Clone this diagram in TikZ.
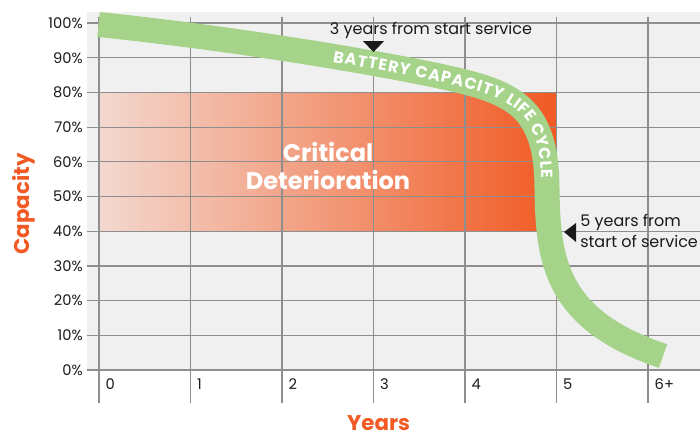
\documentclass[tikz,border=0pt]{standalone}
\usepackage{fontspec}
\setmainfont{Poppins}
\usetikzlibrary{decorations.text}
\definecolor{panel}{RGB}{240,240,240}
\definecolor{gridgrey}{RGB}{142,142,142}
\definecolor{bandgreen}{RGB}{166,211,138}
\definecolor{hot}{RGB}{241,90,36}
\definecolor{pale}{RGB}{243,216,207}
\definecolor{ink}{RGB}{26,26,26}
\begin{document}
\begin{tikzpicture}[x=68.625pt,y=2.6025pt,
  gridline/.style={line width=0.9pt,draw=gridgrey},
  ticklabel/.style={inner sep=0pt,text=ink,font=\fontsize{11}{13}\selectfont},
  axistitle/.style={inner sep=0pt,text=hot,font=\bfseries\fontsize{16}{19}\selectfont},
  callout/.style={inner sep=0pt,text=ink,font=\fontsize{12}{16.3}\selectfont}]
\useasboundingbox (-1.082,-19.31) rectangle (6.568,106.63);
\fill[panel] (-0.131,0) rectangle (6.568,103.2);
\shade[left color=pale,right color=hot] (0,40) rectangle (5,80);
\foreach \p in {0,10,...,100}
  \draw[gridline] (-0.131,\p) -- (6.568,\p);
\foreach \t in {0,...,6}
  \draw[gridline] (\t,101.8) -- (\t,-9.6);
\foreach \p in {0,10,...,100}
  \node[ticklabel,anchor=east] (ylbl\p) at (-0.175,\p) {\p\%};
\foreach \t in {0,...,5}
  \node[ticklabel,anchor=west] (xlbl\t) at (\t+0.07,-4.03) {\t};
\node[ticklabel,anchor=west] (xlbl6) at (6.07,-4.03) {6+};
\draw[bandgreen,line width=18.75pt] (-0.005,99.57) .. controls (1.650,95.10) and (3.454,86.74) .. (4.000,83.00)
  .. controls (4.601,78.96) and (4.896,73.49) .. (4.896,51.87)
  .. controls (4.907,31.70) and (4.984,14.41) .. (6.164,4.03);
\path[decorate,decoration={text along path,raise=-4.2pt,text align={fit to path},text color=white,
  text={|\bfseries\fontsize{12}{14}\selectfont|BATTERY CAPACITY LIFE CYCLE}}]
  (2.564,90.35) .. controls (3.220,87.46) and (3.746,84.73) .. (4.000,83.00)
  .. controls (4.601,78.96) and (4.896,73.49) .. (4.896,55.33);
\node[text=white,align=center,font=\bfseries\fontsize{18}{21}\selectfont] (critical) at (2.503,58.9) {Critical\\Deterioration};
\node[callout,anchor=base] (note3) at (3.628,96.74) {3 years from start service};
\fill[ink] (3,91.64) -- (2.885,94.81) -- (3.115,94.81) -- cycle;
\node[callout,anchor=west,align=left] (note5) at (5.257,40.1) {5 years from\\start of service};
\fill[ink] (5.082,39.77) -- (5.213,42.36) -- (5.213,36.89) -- cycle;
\node[axistitle,rotate=90] (capacity) at (-0.820,47.84) {Capacity};
\node[axistitle] (years) at (3.055,-15.4) {Years};
\end{tikzpicture}
\end{document}
